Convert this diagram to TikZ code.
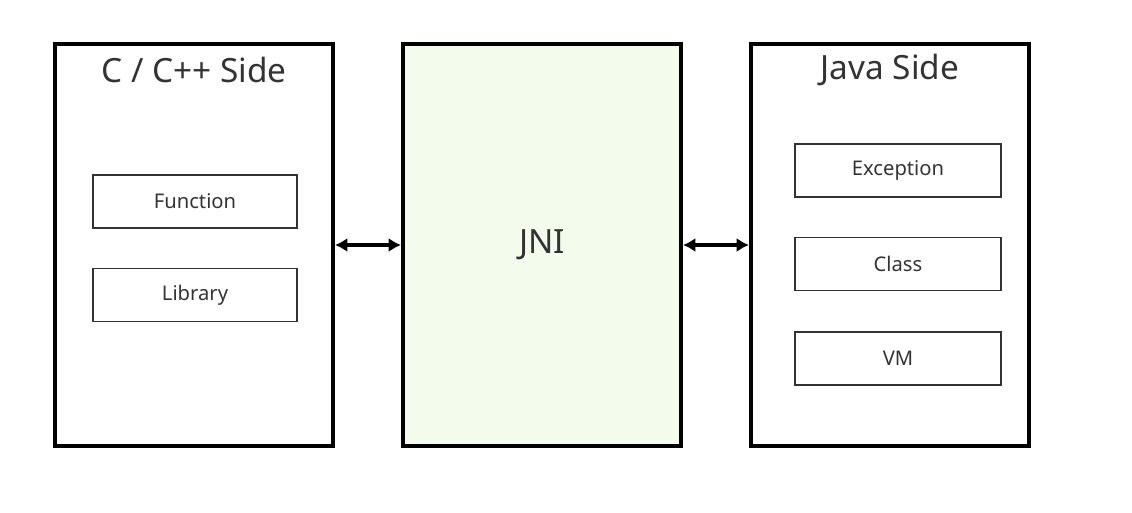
\documentclass[tikz,border=0pt]{standalone}
\usepackage{fontspec}
\setmainfont{Noto Sans}
\usepackage{xcolor}
\usepackage{tikz}
\usetikzlibrary{arrows.meta}
\definecolor{jnigreen}{RGB}{243,252,236}
\definecolor{txtgray}{RGB}{51,51,51}
\tikzset{
	side/.style={
			draw=black, line width=2.3pt, minimum width=5.56cm, minimum height=8.04cm,
			inner sep=0pt
		},
	part/.style={
			draw=black!80, line width=0.9pt, minimum width=4.08cm, minimum height=1.06cm,
			font=\fontsize{11.5}{13}\selectfont, text=txtgray
		},
	title/.style={font=\fontsize{19}{22}\selectfont, text=txtgray}
}

\begin{document}
\begin{tikzpicture}[x=0.02cm,y=-0.02cm]
		\useasboundingbox (0,0) rectangle (1132,512);
		\node [side] (cside) at (194,245) {};
		\node [side,fill=jnigreen,title] (jni) at (542,245) {JNI};
		\node [side] (jside) at (890,245) {};
		\node [title] (ctitle) at (194,70) {C / C++ Side};
		\node [title] (jtitle) at (890,70) {Java Side};
		\node [part] (func) at (195,201.5) {Function};
		\node [part] (lib) at (195,295) {Library};
		\node [part,minimum width=4.12cm] (exc) at (898,170.5) {Exception};
		\node [part,minimum width=4.12cm] (cls) at (898,264) {Class};
		\node [part,minimum width=4.12cm] (vm) at (898,358.5) {VM};
		\draw [line width=1.8pt,{Latex[length=7pt,width=8pt]}-{Latex[length=7pt,width=8pt]}] (cside.east |- jni) -- (jni.west);
		\draw [line width=1.8pt,{Latex[length=7pt,width=8pt]}-{Latex[length=7pt,width=8pt]}] (jni.east) -- (jside.west |- jni);
	\end{tikzpicture}
\end{document}
